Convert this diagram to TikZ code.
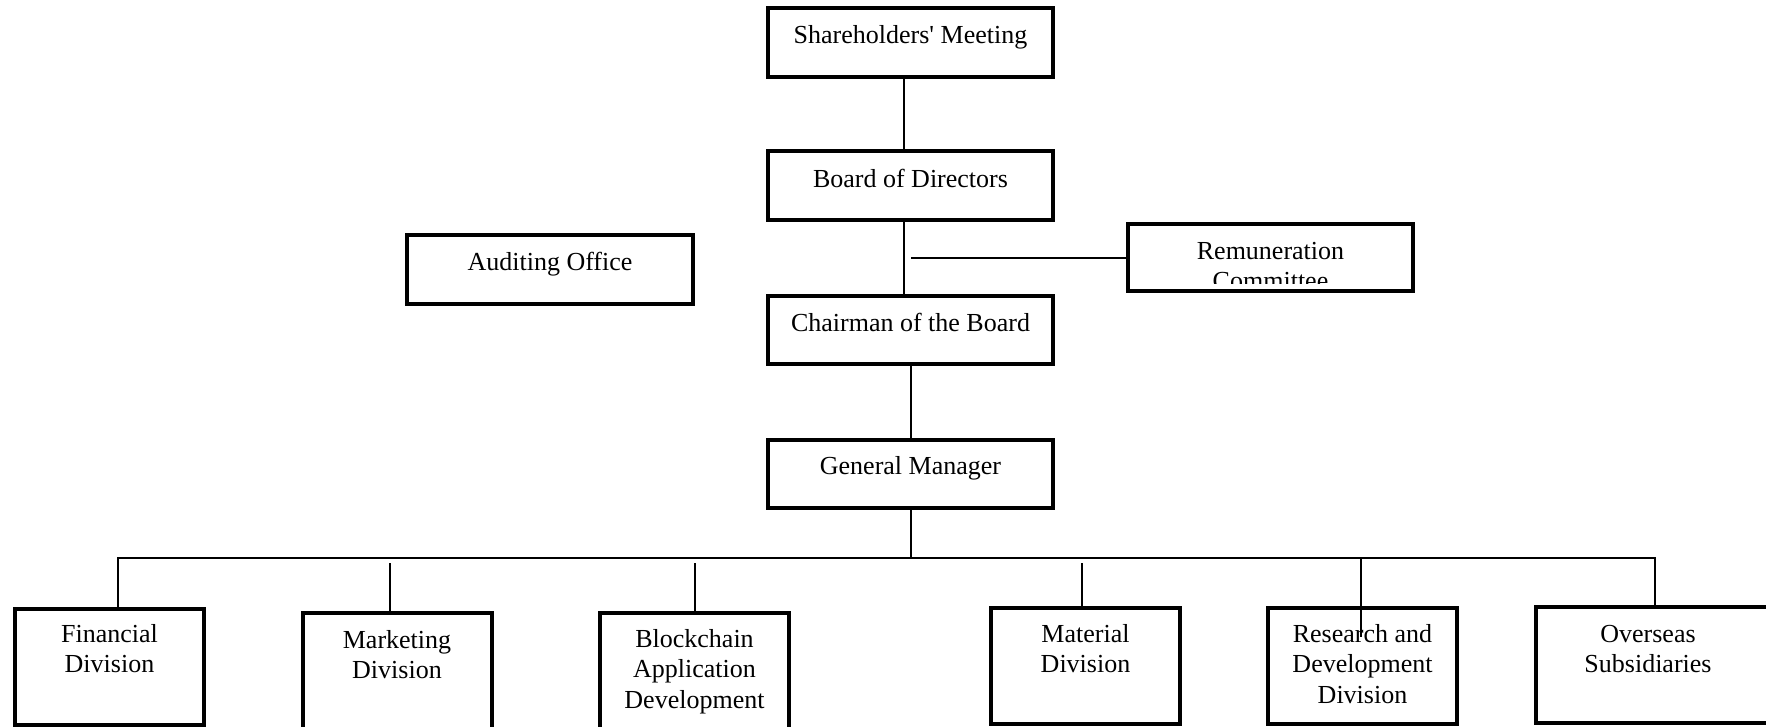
\documentclass[tikz,border=0pt]{standalone}
\usepackage{fontspec}
\setmainfont{Liberation Serif}
\begin{document}
\begin{tikzpicture}[x=0.5pt,y=-0.5pt,
  orgbox/.style={draw, line width=2pt, inner sep=0pt, minimum width=142.5pt, minimum height=34.5pt},
  divbox/.style={draw, line width=2pt, inner sep=0pt, minimum width=94.5pt, minimum height=58pt},
  label/.style={anchor=north, inner sep=0pt, align=center,
    font=\fontsize{13}{15.25}\selectfont},
  link/.style={line width=1pt},
  bus/.style={line width=0.8pt}]
\useasboundingbox (0,0) rectangle (1766,727);
\clip (0,0) rectangle (1766,727);

% upper management
\node[orgbox] (sh) at (910.5,42.5) {};
\node[orgbox] (bd) at (910.5,185.5) {};
\node[orgbox, minimum height=34pt] (ch) at (910.5,330) {};
\node[orgbox, minimum height=34pt] (gm) at (910.5,474) {};
\node[orgbox, minimum width=143pt] (au) at (550,269.5) {};
\node[orgbox, minimum height=33.5pt] (rm) at (1270.5,257.5) {};

\node[label] (sh-t) at (910.5,21.6) {\strut Shareholders\textquotesingle{} Meeting};
\node[label] (bd-t) at (910.5,165.6) {\strut Board of Directors};
\node[label] (ch-t) at (910.5,309.6) {\strut Chairman of the Board};
\node[label] (gm-t) at (910.5,452.6) {\strut General Manager};
\node[label] (au-t) at (550,248.6) {\strut Auditing Office};
\begin{scope}
  \clip (1130,225) rectangle (1412,283);
  \node[label] (rm-t) at (1270.5,237.6) {\strut Remuneration\\Committee};
\end{scope}

% divisions
\node[divbox] (fin) at (109.5,666.5) {};
\node[divbox] (mkt) at (397,671) {};
\node[divbox] (bc)  at (694.5,671) {};
\node[divbox] (mat) at (1085.5,666) {};
\node[divbox] (rd)  at (1362.5,666) {};
\node[divbox, minimum width=131pt] (ov) at (1667,665) {};

\node[label] (fin-t) at (109.5,620.6) {\strut Financial\\Division};
\node[label] (mkt-t) at (397,626.6) {\strut Marketing\\Division};
\node[label] (bc-t)  at (694.5,625.6) {\strut Blockchain\\Application\\Development};
\node[label] (mat-t) at (1085.5,620.6) {\strut Material\\Division};
\node[label] (rd-t)  at (1362.5,620.6) {\strut Research and\\Development\\Division};
\node[label] (ov-t)  at (1648,620.6) {\strut Overseas\\Subsidiaries};

% connectors
\coordinate (topx) at (904,0);
\coordinate (midx) at (911,0);
\coordinate (rmend) at (911,258.5);
\coordinate (busL) at (118,558);
\coordinate (busR) at (1655,558);
\coordinate (busM) at (911,558);
\coordinate (rdend) at (1361,637);

\draw[link] (sh.south -| topx) -- (bd.north -| topx);
\draw[link] (bd.south -| topx) -- (ch.north -| topx);
\draw[link] (rmend) -- (rm.west |- rmend);
\draw[link] (ch.south -| midx) -- (gm.north -| midx);
\draw[link] (gm.south -| midx) -- (busM);
\draw[bus] (fin.north -| busL) -- (busL) -- (busR) -- (ov.north -| busR);
\draw[link] (390,563) -- (mkt.north -| 390,0);
\draw[link] (695,563) -- (bc.north -| 695,0);
\draw[link] (1082,563) -- (mat.north -| 1082,0);
\draw[link] (rdend |- busL) -- (rdend);
\end{tikzpicture}
\end{document}
